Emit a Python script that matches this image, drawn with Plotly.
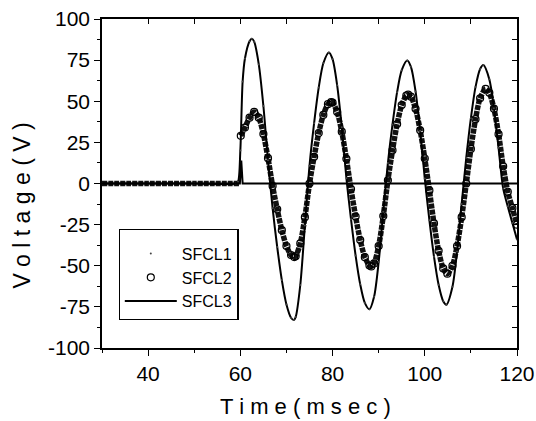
import plotly.graph_objects as go

# ---- data ----
t1 = [30, 40, 50, 59, 59.5, 60, 60.5, 61, 62, 62.5, 63, 64, 65, 66, 67, 68, 69, 70, 71, 71.6,
      72, 73, 74, 75, 76, 77, 78, 79.2, 80, 81, 82, 83, 84, 85, 86, 87, 88, 89, 90, 91, 92, 93,
      94, 95, 96.2, 97, 98, 99, 100, 101, 102, 103, 104, 104.7, 106, 107, 108, 109, 110, 111,
      112, 112.7, 114, 115, 116, 117, 118, 119, 120]
sfcl1 = [0, 0, 0, 0, 1, 20, 62, 76, 86.5, 88, 86.2, 72.4, 47.1, 14.1, -15.0, -38.6, -58.7, -73.5,
         -81.6, -83.0, -81.2, -61.7, -25.6, 10.8, 36.7, 58.3, 73.1, 79.7, 75.6, 59.7, 34.2, 3.2,
         -21.7, -43.8, -61.3, -72.6, -76.5, -68.9, -47.7, -17.1, 12.4, 35.9, 55.5, 68.9, 74.8,
         70.9, 56.0, 32.1, 3.0, -22.3, -44.5, -61.6, -71.6, -73.7, -62.8, -41.3, -12.4, 15.7,
         39.7, 58.6, 69.6, 72.0, 63.3, 45.8, 21.7, -3, -14, -24, -34]

t2 = [30, 40, 50, 59.8, 59.9, 60.1, 61, 62, 63, 64, 65, 66, 67, 68, 69, 70, 71, 71.7, 72, 73, 74,
      75, 76, 77, 78, 79, 79.7, 80, 81, 82, 83, 84, 85, 86, 87, 88, 88.4, 89, 90, 91, 92, 93, 94,
      95, 96, 96.4, 97, 98, 99, 100, 101, 102, 103, 104, 104.9, 106, 107, 108, 109, 110, 111,
      112, 113.2, 114, 115, 116, 117, 118, 119, 120]
sfcl2 = [0, 0, 0, 0, None, 29, 34, 40, 43.5, 40.0, 30.1, 15.4, -1.5, -15.7, -28.4, -38.0, -43.5,
         -44.7, -44.2, -36.4, -20.5, 0, 16.2, 30.7, 41.7, 48.2, 49.5, 49.2, 43.5, 31.5, 15.0,
         -3.4, -20.1, -34.4, -44.8, -49.9, -50.4, -48.6, -38.0, -19.8, 1.9, 20.2, 36.1, 47.7,
         53.5, 54.0, 52.8, 45.4, 32.3, 15.2, -4.2, -24.3, -40.9, -51.6, -54.8, -50.0, -38.0,
         -20.5, 0, 21.0, 39.1, 51.8, 57.5, 55.1, 45.5, 30.0, 10.5, -5, -15, -25]

t3 = [30, 59.9, 60.2, 60.5, 120]
sfcl3 = [0, 0, 14, 0, 0]

x_ticks = [40, 60, 80, 100, 120]
y_ticks = [-100, -75, -50, -25, 0, 25, 50, 75, 100]
y_tick_labels = ["-100", "-75", "-50", "-25", "0", "25", "50", "75", "100"]

FONT = "Liberation Sans, Arial, Helvetica, sans-serif"

fig = go.Figure()

# SFCL2: dense open circles -> thick broken band + circle markers
fig.add_trace(go.Scatter(x=t2, y=sfcl2, mode="lines", line=dict(color="#111", width=5.5, shape="spline",
                         smoothing=0.8, dash="5px,1px"),
                         showlegend=False, legendgroup="2", hoverinfo="skip"))
fig.add_trace(go.Scatter(x=t2[5:], y=sfcl2[5:], mode="markers", name="SFCL2", legendgroup="2",
                         legendrank=2,
                         marker=dict(symbol="circle-open", size=7, color="black", line=dict(width=1.2))))
# SFCL1: dense small dots -> thin line + tiny dots
fig.add_trace(go.Scatter(x=t1, y=sfcl1, mode="lines", line=dict(color="black", width=2, shape="spline",
                         smoothing=0.8),
                         showlegend=False, legendgroup="1", hoverinfo="skip"))
fig.add_trace(go.Scatter(x=t1, y=sfcl1, mode="markers", name="SFCL1", legendgroup="1", legendrank=1,
                         marker=dict(symbol="circle", size=2, color="#444")))
# SFCL3: solid line
fig.add_trace(go.Scatter(x=t3, y=sfcl3, mode="lines", name="SFCL3", legendrank=3,
                         line=dict(color="black", width=2)))
# helper trace so the mirrored (inward-tick) axes are drawn
fig.add_trace(go.Scatter(x=t3[:1], y=sfcl3[:1], xaxis="x2", yaxis="y2", mode="markers",
                         marker=dict(opacity=0), showlegend=False, hoverinfo="skip"))

axis_common = dict(showgrid=False, zeroline=False, showline=True, linecolor="black", linewidth=1.5,
                   tickcolor="black", tickwidth=1.3, automargin=False, ticklabeloverflow="allow",
                   tickfont=dict(family=FONT, size=21, color="black"))
mirror_common = dict(showticklabels=False, showgrid=False, zeroline=False, showline=True,
                     linecolor="black", linewidth=1.5, tickcolor="black", tickwidth=1.2,
                     automargin=False, ticks="inside", ticklen=5)

fig.update_layout(
    width=536, height=421,
    margin=dict(l=102, r=19, t=19, b=73, autoexpand=False),
    paper_bgcolor="white", plot_bgcolor="white",
    font=dict(family=FONT, color="black"),
    xaxis=dict(range=[30, 120], tickvals=x_ticks, ticks="outside", ticklen=6,
               minor=dict(dtick=10, tick0=30, ticks="outside", ticklen=3, tickcolor="black"),
               **axis_common),
    yaxis=dict(range=[-100, 100], tickvals=y_ticks, ticktext=y_tick_labels, ticks="outside", ticklen=6,
               minor=dict(dtick=12.5, tick0=0, ticks="outside", ticklen=3, tickcolor="black"),
               **axis_common),
    xaxis2=dict(overlaying="x", side="top", anchor="y", range=[30, 120], dtick=10, tick0=30,
                **mirror_common),
    yaxis2=dict(overlaying="y", side="right", anchor="x", range=[-100, 100], dtick=12.5, tick0=0,
                **mirror_common),
    legend=dict(x=0.04, y=0.362, xanchor="left", yanchor="top", bgcolor="white",
                bordercolor="black", borderwidth=1.2, font=dict(family=FONT, size=16, color="black"),
                title=dict(text=" ", font=dict(size=5)),
                itemwidth=52, tracegroupgap=0),
    annotations=[
        dict(text="T i m e ( m s e c )", xref="paper", yref="paper", x=0.49, y=-0.178,
             xanchor="center", yanchor="middle", showarrow=False,
             font=dict(family=FONT, size=22, color="black")),
        dict(text="V o l t a g e ( V )", xref="paper", yref="paper", x=-0.193, y=0.4325,
             xanchor="center", yanchor="middle", textangle=-90, showarrow=False,
             font=dict(family=FONT, size=23, color="black")),
    ],
)

# remove the default 8px page margin so the 536x421 figure fills the window exactly
fig.write_html("out.html", config={"displayModeBar": False},
               post_script="document.body.style.margin='0px';")
